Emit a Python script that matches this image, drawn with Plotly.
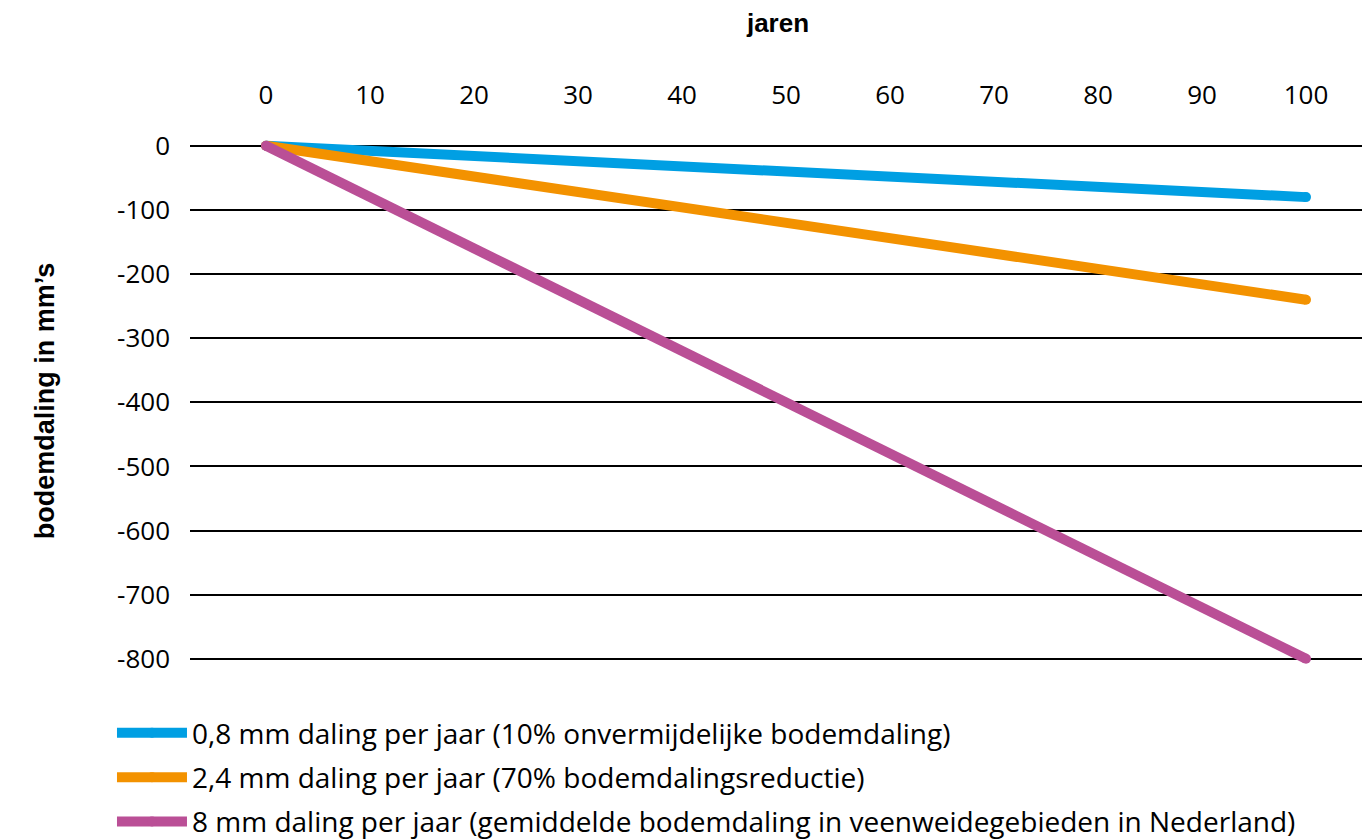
import plotly.graph_objects as go

years = [0, 100]
blue_vals = [0, -80]
orange_vals = [0, -240]
purple_vals = [0, -800]

names = [
    "0,8 mm daling per jaar (10% onvermijdelijke bodemdaling)",
    "2,4 mm daling per jaar (70% bodemdalingsreductie)",
    "8 mm daling per jaar (gemiddelde bodemdaling in veenweidegebieden in Nederland)",
]
colors = ["#009FE3", "#F39200", "#BA4F96"]
series = [blue_vals, orange_vals, purple_vals]

x_ticks = list(range(0, 101, 10))
x_tick_labels = [str(v) for v in x_ticks]
y_ticks = list(range(0, -801, -100))
y_tick_labels = ["0", "-100", "-200", "-300", "-400", "-500", "-600", "-700", "-800"]

FONT = "Open Sans"
TITLE_FONT = "Liberation Sans"

fig = go.Figure()
for i, (name, col, vals) in enumerate(zip(names, colors, series)):
    fig.add_trace(go.Scatter(
        x=years, y=vals, name=name, mode="lines+markers",
        line=dict(color=col, width=10),
        marker=dict(color=col, size=10),
        legendgroup="g%d" % i,
        hoverinfo="skip",
    ))

fig.update_layout(
    width=1370, height=839,
    paper_bgcolor="white", plot_bgcolor="white",
    margin=dict(l=182, r=12, t=125, b=169, autoexpand=False),
    font=dict(family=FONT, size=26, color="black"),
    showlegend=True,
    legend=dict(
        xref="container", yref="container",
        x=0.0759, y=0.1656, xanchor="left", yanchor="top",
        font=dict(family=FONT, size=28, color="black"),
        itemwidth=70, tracegroupgap=5,
        bgcolor="rgba(0,0,0,0)",
    ),
    xaxis=dict(
        side="top", range=[-7.31, 105.77],
        tickvals=x_ticks, ticktext=x_tick_labels,
        showgrid=False, zeroline=False, showline=False,
        ticks="", ticklabelstandoff=23,
        title=dict(text="<b>jaren</b>", font=dict(family=TITLE_FONT, size=26), standoff=38),
    ),
    yaxis=dict(
        range=[-830, 20], tickvals=y_ticks, ticktext=y_tick_labels,
        showgrid=True, gridcolor="black", gridwidth=1.5,
        zeroline=False, showline=False, ticks="", ticklabelstandoff=19,
    ),
    annotations=[dict(
        text="<b>bodemdaling in mm’s</b>", textangle=-90,
        xref="paper", yref="paper", x=(37 - 182) / 1176, y=0.508,
        xanchor="center", yanchor="middle", showarrow=False,
        font=dict(family=TITLE_FONT, size=27, color="black"),
    )],
)

fig.write_html("out.html")
